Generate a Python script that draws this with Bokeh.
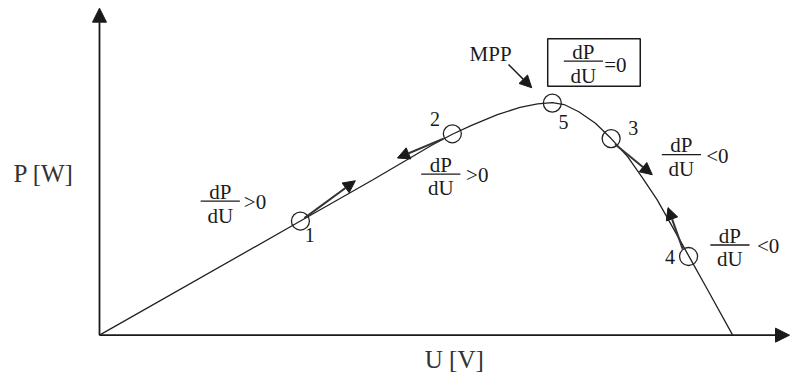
from bokeh.plotting import figure
from bokeh.models import Range1d, Arrow, NormalHead
from bokeh.core.properties import value
from bokeh.embed import file_html
from bokeh.resources import INLINE

FONT = "Liberation Serif"
INK = "#1a1a1a"

# P-U characteristic of the PV module (arbitrary units)
U_curve = [0, 205, 279, 319, 339, 360, 379, 406, 429, 447, 462, 474, 489, 506,
           522, 539, 554, 569, 584, 601, 619, 646]
P_curve = [0, 119, 162, 186, 198, 209.5, 218.5, 230, 237.5, 241.2, 242.5, 240.5,
           233, 221, 205, 186, 164, 141, 114, 83, 50, 0]

# operating points 1..5
point_labels = ["1", "2", "5", "3", "4"]
point_U = [205, 360, 462, 522, 601]
point_P = [119, 210, 242, 205, 82]
label_U = [214.5, 342.3, 473.5, 544.5, 582]
label_P = [97.3, 218.3, 215, 209, 75]

# perturbation steps (arrows)
step_U0 = [209, 351, 526, 595]
step_P0 = [122, 205, 199, 90]
step_U1 = [261, 304, 564, 580]
step_P1 = [161, 184.7, 167.3, 133]

# dP/dU annotations
frac_U = [123.2, 348.2, 593.7, 643.2, 493.7]
frac_P = [139.7, 168, 188.3, 94, 285.7]
frac_sign = [">0", ">0", "<0", "<0", "=0"]
sign_U = [147.3, 374, 619, 670.7, 515]
sign_dP = [-8, -8, -8, -8, -11]

# MPP annotation
mpp_label = "MPP"
mpp_U, mpp_P = 399, 286.3
mpp_arrow_U = [417.3, 441]
mpp_arrow_P = [282.3, 258]
box_U = [457.3, 551.7]
box_P = [259.7, 309]

# axes
axis_U_max = 704
axis_P_max = 341
x_title, x_title_U, x_title_P = "U [V]", 362, -32
y_title, y_title_U, y_title_P = "P [W]", -57, 162

BASE_FIX = 7  # renderer places alphabetic baseline a little low


def fy(vals):
    return [v + BASE_FIX for v in vals]


p = figure(width=790, height=373, output_backend="svg", toolbar_location=None,
           x_range=Range1d(-101, 705), y_range=Range1d(-40, 349),
           x_axis_type=None, y_axis_type=None, min_border=0)
p.grid.visible = False
p.outline_line_color = None
p.background_fill_color = "white"
p.border_fill_color = "white"

# axes with arrow heads
for xs, ys, xe, ye in [(0, 0, axis_U_max, 0), (0, 0, 0, axis_P_max)]:
    p.add_layout(Arrow(x_start=xs, y_start=ys, x_end=xe, y_end=ye,
                       line_width=1.8, line_color=INK,
                       end=NormalHead(size=14, fill_color=INK, line_color=INK)))

# curve
p.line(U_curve, P_curve, line_width=1.3, line_color="#222222")

# operating point circles
p.scatter(point_U, point_P, marker="circle", size=18, fill_color=None,
          line_color="#222222", line_width=1.3)
p.text(label_U, fy(label_P), text=point_labels, text_font=value(FONT),
       text_font_size="20px", text_align="center", text_baseline="alphabetic",
       text_color=INK)

# step arrows
for u0, p0, u1, p1 in zip(step_U0, step_P0, step_U1, step_P1):
    p.add_layout(Arrow(x_start=u0, y_start=p0, x_end=u1, y_end=p1,
                       line_width=2, line_color="#333333",
                       end=NormalHead(size=12, fill_color=INK, line_color=INK)))

# dP/dU fractions
half = 20
p.segment(x0=[u - half for u in frac_U], y0=frac_P,
          x1=[u + half for u in frac_U], y1=frac_P,
          line_width=1.3, line_color=INK)
p.text(frac_U, fy([v + 2.5 for v in frac_P]), text=["dP"] * len(frac_U),
       text_font=value(FONT), text_font_size="21px", text_align="center",
       text_baseline="alphabetic", text_color=INK)
p.text(frac_U, fy([v - 22 for v in frac_P]), text=["dU"] * len(frac_U),
       text_font=value(FONT), text_font_size="21px", text_align="center",
       text_baseline="alphabetic", text_color=INK)
p.text(sign_U, fy([v + d for v, d in zip(frac_P, sign_dP)]), text=frac_sign,
       text_font=value(FONT), text_font_size="21px", text_align="left",
       text_baseline="alphabetic", text_color=INK)

# MPP box and arrow
p.quad(left=[box_U[0]], right=[box_U[1]], bottom=[box_P[0]], top=[box_P[1]],
       fill_color=None, line_color=INK, line_width=1.5)
p.add_layout(Arrow(x_start=mpp_arrow_U[0], y_start=mpp_arrow_P[0],
                   x_end=mpp_arrow_U[1], y_end=mpp_arrow_P[1],
                   line_width=1.6, line_color=INK,
                   end=NormalHead(size=12, fill_color=INK, line_color=INK)))
p.text([mpp_U], fy([mpp_P]), text=[mpp_label], text_font=value(FONT),
       text_font_size="21px", text_align="center", text_baseline="alphabetic",
       text_color=INK)

# axis titles
p.text([x_title_U], fy([x_title_P]), text=[x_title], text_font=value(FONT),
       text_font_size="25px", text_align="center", text_baseline="alphabetic",
       text_color="#333333")
p.text([y_title_U], fy([y_title_P]), text=[y_title], text_font=value(FONT),
       text_font_size="25px", text_align="center", text_baseline="alphabetic",
       text_color="#333333")

open("out.html", "w").write(file_html(p, INLINE))
